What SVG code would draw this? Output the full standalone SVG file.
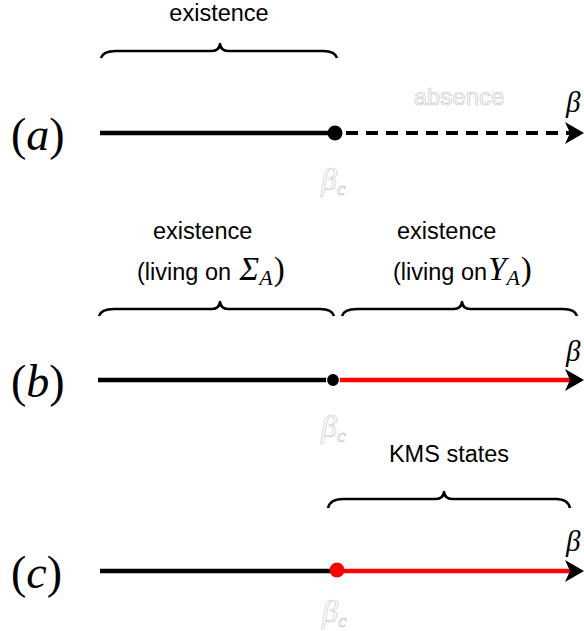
<svg xmlns="http://www.w3.org/2000/svg" width="584" height="631" viewBox="0 0 584 631">
<style>
.txt{font-family:"Liberation Sans",Arial,sans-serif;font-size:23.5px;fill:#000}
.ghost{font-family:"Liberation Sans",Arial,sans-serif;font-size:24px;fill:#fff;stroke:#c8c8c8;stroke-width:0.7}
.ghostm{font-family:"Liberation Serif","DejaVu Serif",serif;font-style:italic;font-size:32px;fill:#fff;stroke:#cccccc;stroke-width:0.7}
.lab{font-family:"Liberation Serif","DejaVu Serif",serif;font-size:46px;fill:#000}
.math{font-family:"Liberation Serif","DejaVu Serif",serif;font-style:italic;fill:#000}
.mpar{font-family:"Liberation Serif","DejaVu Serif",serif;font-style:normal;fill:#000}
.brace{fill:none;stroke:#000;stroke-width:2.6;stroke-linejoin:round}
.blk{stroke:#000;stroke-width:4.5;fill:none}
.red{stroke:#ff0000;stroke-width:4.5;fill:none}
.dash{stroke:#000;stroke-width:4;stroke-dasharray:12 8;fill:none}
</style>
<defs>
<path id="arrow" d="M0,0 L-19,-11 L-14,0 L-19,11 Z" fill="#000"/>
</defs>

<g id="panel-a">
<text class="txt" x="219" y="21" text-anchor="middle">existence</text>
<path class="brace" d="M101,58 Q103,51 116,51 L212,51 Q219,51 220,44 Q221,51 228,51 L323,51 Q335,51 337,58"/>
<text class="lab" x="11" y="150">(<tspan font-style="italic">a</tspan>)</text>
<text class="ghost" x="459" y="105" text-anchor="middle">absence</text>
<text class="math" x="566" y="112" font-size="29">β</text>
<text class="ghostm" x="321" y="190">β<tspan font-size="19" dy="5">c</tspan></text>
</g>

<g id="panel-b">
<text class="txt" x="153" y="239">existence</text>
<text class="txt" x="137" y="280">(living on <tspan class="math" font-size="33" dx="2">Σ</tspan><tspan class="math" font-size="22" dy="5">A</tspan><tspan class="mpar" font-size="33" dy="-5" dx="1">)</tspan></text>
<text class="txt" x="397" y="239">existence</text>
<text class="txt" x="393" y="280">(living on<tspan class="math" font-size="33" dx="1">Υ</tspan><tspan class="math" font-size="22" dy="5">A</tspan><tspan class="mpar" font-size="33" dy="-5" dx="1">)</tspan></text>
<path class="brace" d="M99,316 Q101,309 114,309 L212,309 Q219,309 220,302 Q221,309 228,309 L320,309 Q332,309 334,316"/>
<path class="brace" d="M342,316 Q344,309 357,309 L454,309 Q461,309 462,302 Q463,309 470,309 L563,309 Q575,309 577,316"/>
<text class="lab" x="11" y="397">(<tspan font-style="italic">b</tspan>)</text>
<text class="math" x="566" y="361" font-size="29">β</text>
<text class="ghostm" x="321" y="437">β<tspan font-size="19" dy="5">c</tspan></text>
</g>

<g id="panel-c">
<text class="txt" x="449" y="462" text-anchor="middle">KMS states</text>
<path class="brace" d="M328,508 Q330,499 343,499 L436,499 Q443,499 444,492 Q445,499 452,499 L556,499 Q568,499 570,508"/>
<text class="lab" x="11" y="588">(<tspan font-style="italic">c</tspan>)</text>
<text class="math" x="566" y="551" font-size="29">β</text>
<text class="ghostm" x="322" y="622">β<tspan font-size="19" dy="5">c</tspan></text>
</g>

<g id="connectors">
<line class="blk" x1="100" y1="133" x2="335" y2="133"/>
<line class="dash" x1="346" y1="133" x2="570" y2="133"/>
<use href="#arrow" x="584" y="133"/>
<circle cx="335" cy="133" r="7.5" fill="#000"/>

<line class="blk" x1="98" y1="380" x2="333" y2="380"/>
<line class="red" x1="338" y1="380" x2="572" y2="380"/>
<use href="#arrow" x="584" y="380"/>
<circle cx="333" cy="380" r="6.5" fill="#000" stroke="#fff" stroke-width="1.2"/>

<line class="blk" x1="100" y1="571" x2="337" y2="571"/>
<line class="red" x1="337" y1="571" x2="572" y2="571"/>
<use href="#arrow" x="584" y="571"/>
<circle cx="337" cy="570" r="7.5" fill="#ff0000"/>
</g>
</svg>
